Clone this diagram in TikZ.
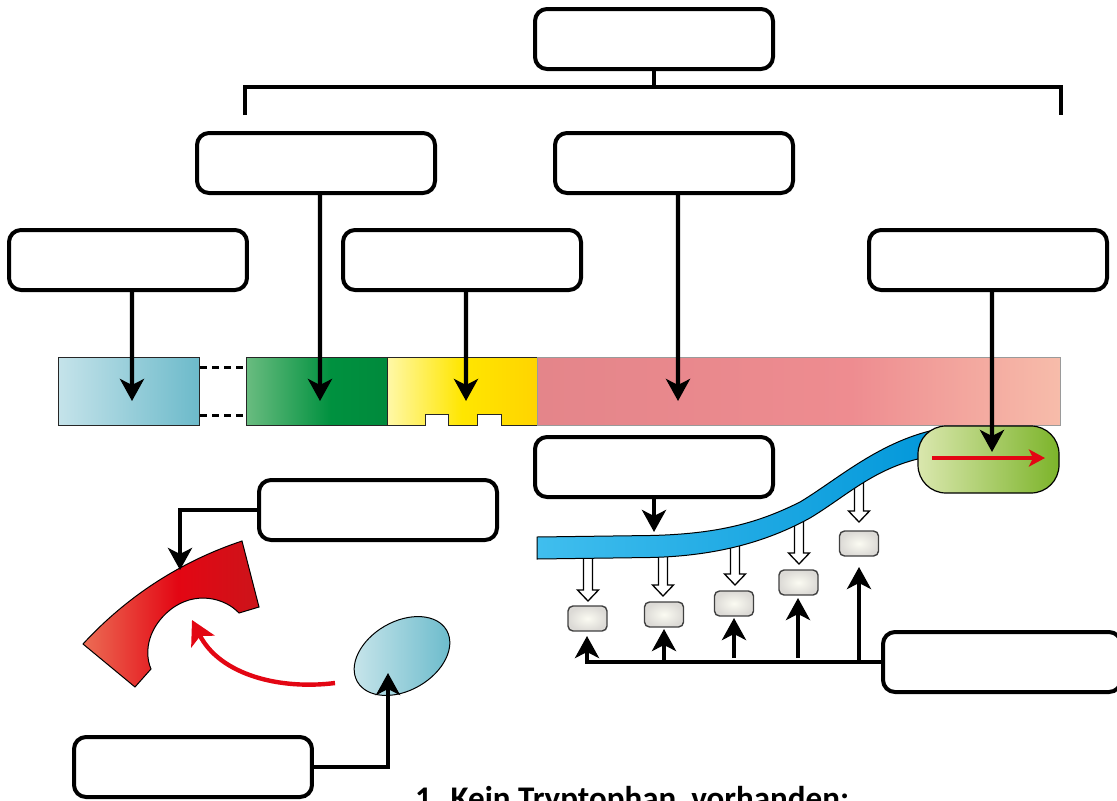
\documentclass[tikz,border=0pt]{standalone}
\usepackage{fontspec}
\newfontfamily\capfont{Carlito}
\usetikzlibrary{arrows.meta,shapes.geometric}

% colours
\definecolor{trpRA}{HTML}{C5E3EA}
\definecolor{trpRB}{HTML}{6CBACA}
\definecolor{promA}{HTML}{6ABC80}
\definecolor{promB}{HTML}{00913F}
\definecolor{promC}{HTML}{008A3C}
\definecolor{opA}{HTML}{FFF8A8}
\definecolor{opB}{HTML}{FFE600}
\definecolor{opC}{HTML}{FFD400}
\definecolor{redA}{HTML}{E4858A}
\definecolor{redB}{HTML}{EE8C90}
\definecolor{redC}{HTML}{F7BCAA}
\definecolor{mrnaA}{HTML}{40BEEE}
\definecolor{mrnaB}{HTML}{0096D9}
\definecolor{ribA}{HTML}{DAE7AE}
\definecolor{ribB}{HTML}{7CB42A}
\definecolor{repA}{HTML}{EC6D55}
\definecolor{repB}{HTML}{E30613}
\definecolor{repC}{HTML}{CC141A}
\definecolor{elA}{HTML}{CCE7EC}
\definecolor{elB}{HTML}{67B9CA}
\definecolor{trpIn}{HTML}{FBFBF2}
\definecolor{trpOut}{HTML}{DCDAD6}
\definecolor{signalRed}{HTML}{E30613}
\definecolor{barGray}{HTML}{9A9A9A}

\pgfdeclarehorizontalshading{promshade}{100bp}{color(0bp)=(promA); color(25bp)=(promA); color(55bp)=(promB); color(75bp)=(promC); color(100bp)=(promC)}
\pgfdeclarehorizontalshading{opshade}{100bp}{color(0bp)=(opA); color(25bp)=(opA); color(50bp)=(opB); color(75bp)=(opC); color(100bp)=(opC)}
\pgfdeclarehorizontalshading{redshade}{100bp}{color(0bp)=(redA); color(25bp)=(redA); color(55bp)=(redB); color(75bp)=(redC); color(100bp)=(redC)}
\pgfdeclarehorizontalshading{repshade}{100bp}{color(0bp)=(repA); color(25bp)=(repA); color(52bp)=(repB); color(75bp)=(repC); color(100bp)=(repC)}

% hollow block arrow pointing down: x, top y, tip y
\newcommand\hollowdown[3]{%
  \draw[hollow] (#1-4.5,#2) -- (#1-4.5,#3-11) -- (#1-10.5,#3-11) -- (#1,#3)
    -- (#1+10.5,#3-11) -- (#1+4.5,#3-11) -- (#1+4.5,#2);}

\begin{document}
\begin{tikzpicture}[x=0.05cm,y=-0.05cm,
  labelbox/.style={draw=black, line width=0.2cm, rounded corners=0.6cm, fill=white,
    minimum width=11.9cm, minimum height=3.0cm, inner sep=0pt},
  bracket/.style={line width=0.22cm},
  pointer/.style={line width=0.22cm, -{Stealth[length=1.1cm, width=1.2cm, inset=0.3cm]}},
  genebox/.style={draw=black!85, line width=0.05cm, inner sep=0pt, minimum height=3.4cm},
  dashes/.style={line width=0.13cm, dash pattern=on 0.35cm off 0.25cm},
  hollow/.style={draw=black, fill=white, line width=0.065cm, line join=miter},
  trp/.style={draw=black!75, line width=0.07cm, rounded corners=0.25cm, inner color=trpIn,
    outer color=trpOut, minimum width=1.95cm, minimum height=1.25cm, inner sep=0pt},
  redarrow/.style={draw=signalRed, line width=0.22cm,
    -{Stealth[length=1.2cm, width=1.3cm, inset=0.3cm]}},
  ribarrow/.style={draw=signalRed, line width=0.21cm,
    -{Stealth[length=0.8cm, width=0.85cm, inset=0.2cm]}}
]
\useasboundingbox (0,0) rectangle (1117,800);

% ---- label boxes ----
\node[labelbox] (top) at (654,39) {};
\node[labelbox] (A) at (316,163) {};
\node[labelbox] (B) at (674,163) {};
\node[labelbox] (C) at (128,260) {};
\node[labelbox] (D) at (462,260) {};
\node[labelbox] (E) at (988,260) {};
\node[labelbox] (F) at (654,467) {};
\node[labelbox] (G) at (378,510) {};
\node[labelbox] (H) at (1002,662) {};
\node[labelbox] (I) at (193,767) {};

% ---- bracket under the top box ----
\coordinate (brM) at (654,87);
\coordinate (brL) at (245,115);
\coordinate (brR) at (1061,115);
\draw[bracket] (top.south) -- (brM);
\draw[bracket] (brL) -- (brL |- brM) -- (brR |- brM) -- (brR);

% ---- gene bar ----
\node[genebox, left color=trpRA, right color=trpRB, minimum width=7.1cm] (trpR) at (129,391) {};
\node[genebox, shade, shading=promshade, minimum width=7.05cm] (prom) at (316.5,391) {};
\shade[shading=opshade, draw=black!85, line width=0.05cm]
  (387,357) -- (537,357) -- (537,425) -- (501,425) -- (501,414) -- (477,414) -- (477,425)
  -- (448,425) -- (448,414) -- (425,414) -- (425,425) -- (387,425) -- cycle;
\node[genebox, draw=barGray, shade, shading=redshade, minimum width=26.15cm] (leader) at (798.5,391) {};
\draw[dashes] ([yshift=-0.55cm]trpR.north east) -- ([yshift=-0.55cm]prom.north west);
\draw[dashes] ([yshift=0.5cm]trpR.south east) -- ([yshift=0.5cm]prom.south west);

\coordinate (hitR) at (132,401);
\coordinate (hitP) at (320,401);
\coordinate (hitO) at (466,401);
\coordinate (hitL) at (678,401);
\draw[pointer] ([xshift=0.2cm]C.south) -- (hitR);
\draw[pointer] ([xshift=0.2cm]A.south) -- (hitP);
\draw[pointer] ([xshift=0.2cm]D.south) -- (hitO);
\draw[pointer] ([xshift=0.2cm]B.south) -- (hitL);

% ---- tryptophan boxes and hollow arrows ----
\hollowdown{588}{553}{601}
\hollowdown{663}{552}{596}
\hollowdown{735}{545}{585}
\hollowdown{799}{520}{564}
\hollowdown{859}{474}{522}

\node[trp] (t1) at (587.5,618.5) {};
\node[trp] (t2) at (664,614.5) {};
\node[trp] (t3) at (734,603.5) {};
\node[trp] (t4) at (798.5,582.5) {};
\node[trp] (t5) at (859,543.5) {};

% ---- mRNA strand ----
\shade[left color=mrnaA, right color=mrnaB, draw=black, line width=0.05cm]
  (537,537) -- (650,535.5) .. controls (720,534) and (760,522) .. (800,502)
  .. controls (840,478) and (885,436) .. (950,427)
  -- (940,455) .. controls (880,462) and (850,494) .. (810,518)
  .. controls (770,540) and (720,556) .. (650,557.5) -- (537,559) -- cycle;

% ---- ribosome ----
\node[draw=black, line width=0.06cm, rounded corners=1.4cm, minimum width=7.05cm,
  minimum height=3.35cm, inner sep=0pt, left color=ribA, right color=ribB] (rib) at (988.5,459.5) {};
\coordinate (ribS) at (932,458);
\coordinate (ribT) at (1045,458);
\draw[ribarrow] (ribS) -- (ribT);
\coordinate (hitRib) at (992,452);
\draw[pointer] ([xshift=0.2cm]E.south) -- (hitRib);

\coordinate (hitM) at (654,532);
\draw[pointer] (F.south) -- (hitM);

% ---- tryptophan pointers ----
\coordinate (hitT1) at (587,636);
\coordinate (hitT2) at (664,629);
\coordinate (hitT3) at (734,618);
\coordinate (hitT4) at (798,598);
\coordinate (hitT5) at (859,567);
\coordinate (s2) at (664,663);
\coordinate (s3) at (734,658);
\coordinate (s4) at (798,658);
\coordinate (s5) at (859,663);
\draw[pointer] (H.west) -| (hitT1);
\draw[pointer] (s2) -- (hitT2);
\draw[pointer] (s3) -- (hitT3);
\draw[pointer] (s4) -- (hitT4);
\draw[pointer] (s5) -- (hitT5);

% ---- repressor ----
\shade[shading=repshade, draw=black, line width=0.05cm]
  (83,644) .. controls (130,593) and (185,560) .. (242,541) -- (259,607) -- (239,613)
  .. controls (225,598) and (195,590) .. (170,610)
  .. controls (150,626) and (143,650) .. (151,669) -- (135,687) -- cycle;
\coordinate (hitRep) at (180,570);
\draw[pointer] (G.west) -| (hitRep);

% ---- corepressor ----
\node[ellipse, draw=black, line width=0.05cm, inner sep=0pt, minimum width=5.15cm,
  minimum height=3.45cm, rotate=30, left color=elA, right color=elB] (corep) at (402,656) {};
\coordinate (curveS) at (335,683);
\coordinate (curveT) at (192,620);
\draw[redarrow] (curveS) .. controls (280,690) and (220,675) .. (curveT);
\coordinate (hitEl) at (388,673);
\draw[pointer] (I.east) -| (hitEl);

% ---- caption ----
\node[anchor=base west, inner sep=0pt, font=\capfont\bfseries\fontsize{47}{50}\selectfont]
  (caption) at (415,809) {1. Kein Tryptophan\ \ vorhanden:};
\end{tikzpicture}
\end{document}
